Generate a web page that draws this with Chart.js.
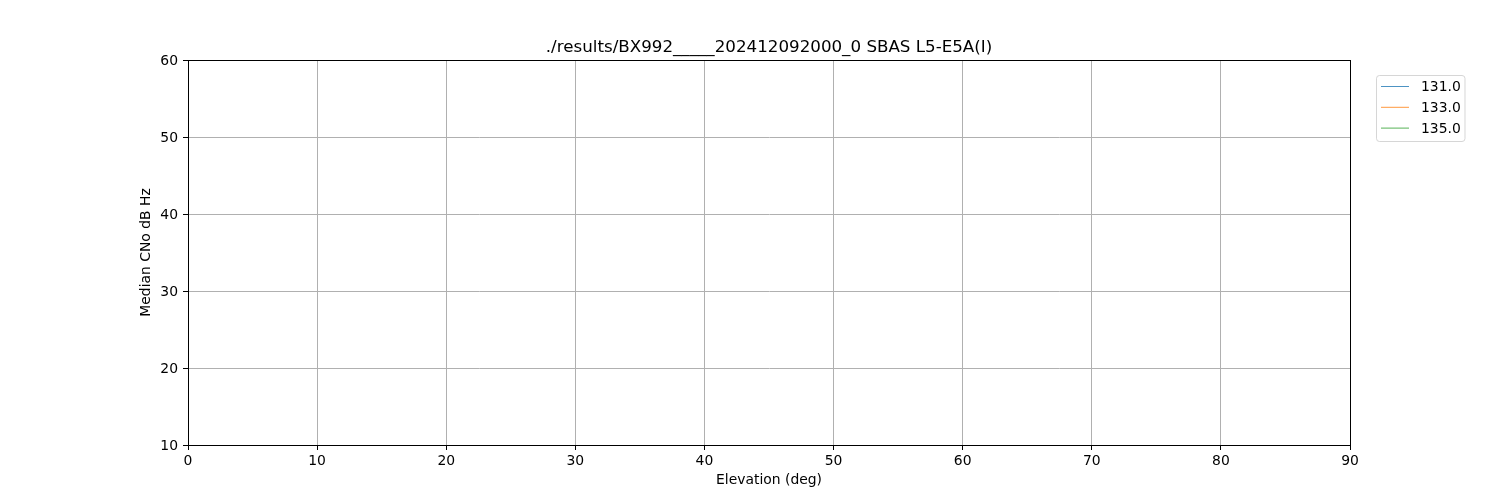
<!DOCTYPE html>
<html>
<head>
<meta charset="utf-8">
<style>
  html, body { margin: 0; padding: 0; background: #fff; }
  #wrap { width: 1500px; height: 500px; }
</style>
<script src="https://cdn.jsdelivr.net/npm/chart.js@4/dist/chart.umd.min.js"></script>
</head>
<body>
<div id="wrap"><canvas id="c" width="1500" height="500"></canvas></div>
<script>
// ---- data (the reference plot shows no points, only legend entries) ----
const chartTitle = "./results/BX992_____202412092000_0 SBAS L5-E5A(I)";
const xAxisTitle = "Elevation (deg)";
const yAxisTitle = "Median CNo dB Hz";
const seriesLabels = ["131.0", "133.0", "135.0"];
const seriesColors = ["#1f77b4", "#ff7f0e", "#2ca02c"];
const series131 = [];
const series133 = [];
const series135 = [];
const xRange = [0, 90];
const xStep = 10;
const yRange = [10, 60];
const yStep = 10;

const seriesData = [series131, series133, series135];
const FONT = "'DejaVu Sans', sans-serif";

const framePlugin = {
  id: 'frame',
  afterDraw(chart) {
    const ctx = chart.ctx;
    const a = chart.chartArea;
    ctx.save();
    // spines
    ctx.strokeStyle = '#000';
    ctx.lineWidth = 1;
    ctx.strokeRect(Math.round(a.left) + 0.5, Math.round(a.top) + 0.5,
                   Math.round(a.right - a.left), Math.round(a.bottom - a.top));
    // title
    ctx.fillStyle = '#000';
    ctx.font = "16.7px " + FONT;
    ctx.textAlign = 'center';
    ctx.textBaseline = 'alphabetic';
    ctx.fillText(chartTitle, (a.left + a.right) / 2, a.top - 8);
    // legend
    const ds = chart.data.datasets;
    const bx = 1376.5, by = 75.5, bw = 88.5, bh = 66, r = 3;
    ctx.globalAlpha = 0.8;
    ctx.fillStyle = '#fff';
    ctx.strokeStyle = '#cccccc';
    ctx.beginPath();
    ctx.moveTo(bx + r, by);
    ctx.lineTo(bx + bw - r, by);
    ctx.quadraticCurveTo(bx + bw, by, bx + bw, by + r);
    ctx.lineTo(bx + bw, by + bh - r);
    ctx.quadraticCurveTo(bx + bw, by + bh, bx + bw - r, by + bh);
    ctx.lineTo(bx + r, by + bh);
    ctx.quadraticCurveTo(bx, by + bh, bx, by + bh - r);
    ctx.lineTo(bx, by + r);
    ctx.quadraticCurveTo(bx, by, bx + r, by);
    ctx.closePath();
    ctx.fill();
    ctx.stroke();
    ctx.globalAlpha = 1;
    ctx.font = "13.9px " + FONT;
    ctx.textAlign = 'left';
    ctx.textBaseline = 'alphabetic';
    ds.forEach((d, i) => {
      const y = 86.5 + i * 20.8;
      ctx.strokeStyle = d.borderColor;
      ctx.lineWidth = 0.8;
      ctx.beginPath();
      ctx.moveTo(1381, y);
      ctx.lineTo(1409, y);
      ctx.stroke();
      ctx.fillStyle = '#000';
      ctx.fillText(d.label, 1421, y + 4.6);
    });
    ctx.restore();
  }
};

new Chart(document.getElementById('c'), {
  type: 'line',
  data: {
    datasets: seriesLabels.map((lab, i) => ({
      label: lab,
      data: seriesData[i],
      borderColor: seriesColors[i],
      backgroundColor: seriesColors[i],
      borderWidth: 1,
      pointRadius: 0,
      fill: false
    }))
  },
  options: {
    responsive: false,
    animation: false,
    devicePixelRatio: 1,
    layout: { padding: { top: 60, right: 150, left: 0, bottom: 0 } },
    plugins: { legend: { display: false }, title: { display: false }, tooltip: { enabled: false } },
    scales: {
      x: {
        type: 'linear',
        min: xRange[0], max: xRange[1],
        afterFit(s) { s.height = 55; },
        ticks: { stepSize: xStep, color: '#000', padding: 3, maxRotation: 0,
                 font: { family: FONT, size: 13.9 } },
        grid: { color: '#b0b0b0', lineWidth: 1, tickLength: 5, tickColor: '#000', drawOnChartArea: true },
        border: { display: true, color: '#000' },
        title: { display: true, text: xAxisTitle, color: '#000',
                 font: { family: FONT, size: 13.9 }, padding: { top: 0, bottom: 11.5 } }
      },
      y: {
        type: 'linear',
        min: yRange[0], max: yRange[1],
        afterFit(s) { s.width = 188; },
        ticks: { stepSize: yStep, color: '#000', padding: 5, labelOffset: 1,
                 font: { family: FONT, size: 13.9 } },
        grid: { color: '#b0b0b0', lineWidth: 1, tickLength: 5, tickColor: '#000' },
        border: { display: true, color: '#000' },
        title: { display: true, text: yAxisTitle, color: '#000',
                 font: { family: FONT, size: 13.9 }, padding: { top: 138.5, bottom: 0 } }
      }
    }
  },
  plugins: [framePlugin]
});
</script>
</body>
</html>
